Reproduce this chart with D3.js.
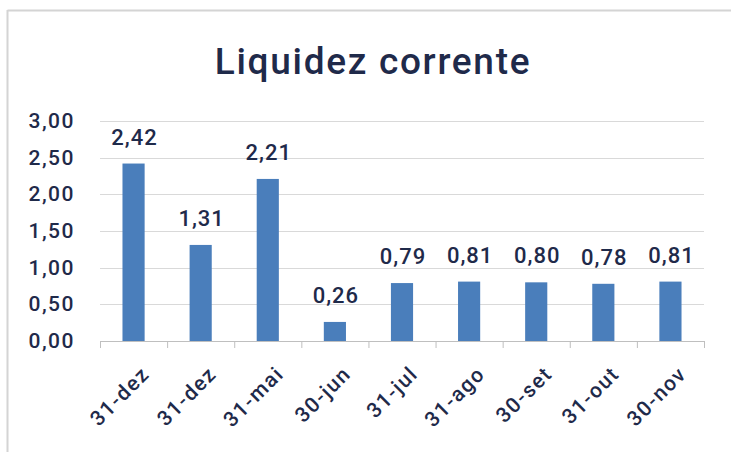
<!DOCTYPE html>
<html><head><meta charset="utf-8">
<script src="https://cdn.jsdelivr.net/npm/d3@7"></script>
<style>body{margin:0;background:#fff}svg{display:block}</style>
</head><body>
<script>
const categories = ["31-dez","31-dez","31-mai","30-jun","31-jul","31-ago","30-set","31-out","30-nov"];
const values = [2.42,1.31,2.21,0.26,0.79,0.81,0.80,0.78,0.81];
const yTicks = [0,0.5,1,1.5,2,2.5,3];
const title = "Liquidez corrente";

const W=731,H=452;
const svg=d3.select("body").append("svg").attr("width",W).attr("height",H);
const font="Roboto,'DejaVu Sans Condensed',sans-serif";
const txt="#1f2a4a";
// border
svg.append("line").attr("x1",7.5).attr("x2",W).attr("y1",10.5).attr("y2",10.5).attr("stroke","#d4d4d4").attr("stroke-width",2);
svg.append("line").attr("x1",7.5).attr("x2",7.5).attr("y1",10).attr("y2",H).attr("stroke","#d4d4d4").attr("stroke-width",2);

const x=d3.scaleBand().domain(d3.range(categories.length)).range([100,704]).paddingInner(0.67).paddingOuter(0.335);
const y=d3.scaleLinear().domain([0,3]).range([341,121]);

svg.append("text").attr("x",373).attr("y",74).attr("text-anchor","middle")
  .attr("font-family",font).attr("font-weight",500).attr("font-size",37).attr("letter-spacing","1.7px")
  .attr("fill",txt).text(title);

// gridlines
svg.append("g").selectAll("line").data(yTicks.slice(1)).join("line")
  .attr("x1",100).attr("x2",704).attr("y1",d=>Math.round(y(d))+0.5).attr("y2",d=>Math.round(y(d))+0.5)
  .attr("stroke","#d9d9d9");

// y labels
svg.append("g").selectAll("text").data(yTicks).join("text")
  .attr("x",75).attr("y",d=>y(d)+7).attr("text-anchor","end")
  .attr("font-family",font).attr("font-weight",500).attr("font-size",21).attr("letter-spacing","1.5px")
  .attr("fill",txt).text(d=>d.toFixed(2).replace(".",","));

// bars
svg.append("g").selectAll("rect").data(values).join("rect")
  .attr("x",(d,i)=>x(i)).attr("width",x.bandwidth())
  .attr("y",d=>y(d)).attr("height",d=>y(0)-y(d)).attr("fill","#4a7ebb");

// value labels
svg.append("g").selectAll("text").data(values).join("text")
  .attr("x",(d,i)=>x(i)+x.bandwidth()/2+1).attr("y",d=>y(d)-19).attr("text-anchor","middle")
  .attr("font-family",font).attr("font-weight",500).attr("font-size",22).attr("letter-spacing","1px")
  .attr("fill",txt).text(d=>d.toFixed(2).replace(".",","));

// x axis
const step=x.step();
const ax=svg.append("g");
ax.append("line").attr("x1",100).attr("x2",704).attr("y1",341.5).attr("y2",341.5).attr("stroke","#bfbfbf");
ax.selectAll("line.t").data(d3.range(categories.length+1)).join("line").attr("class","t")
  .attr("x1",i=>100+i*step+0.5).attr("x2",i=>100+i*step+0.5).attr("y1",341).attr("y2",348).attr("stroke","#bfbfbf");
ax.selectAll("text").data(categories).join("text")
  .attr("transform",(d,i)=>`translate(${x(i)+x.bandwidth()/2+12},${370}) rotate(-45)`)
  .attr("text-anchor","end").attr("dy","0.35em")
  .attr("font-family",font).attr("font-weight",500).attr("font-size",21).attr("letter-spacing","1.5px")
  .attr("fill",txt).text(d=>d);
</script>
</body></html>
